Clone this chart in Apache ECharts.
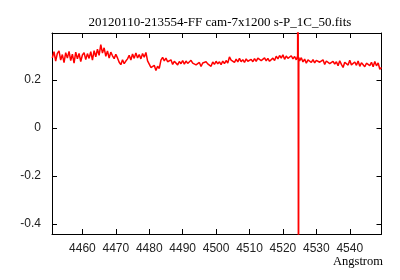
<!DOCTYPE html>
<html>
<head>
<meta charset="utf-8">
<script src="https://cdn.jsdelivr.net/npm/echarts@6/dist/echarts.min.js"></script>
<style>html,body{margin:0;padding:0;background:#fff}#c{width:400px;height:280px}</style>
</head>
<body>
<div id="c"></div>
<script>
var titleText = "20120110-213554-FF cam-7x1200 s-P_1C_50.fits";
var xAxisName = "Angstrom";
var xTicks = [4460, 4470, 4480, 4490, 4500, 4510, 4520, 4530, 4540];
var yTicks = [-0.4, -0.2, 0, 0.2];

var wavelength = [
4451.0,4451.5,4452.0,4452.5,4453.0,4453.5,4454.0,4454.5,4455.0,4455.5,
4456.0,4456.5,4457.0,4457.5,4458.0,4458.5,4459.0,4459.5,4460.0,4460.5,
4461.0,4461.5,4462.0,4462.5,4463.0,4463.5,4464.0,4464.5,4465.0,4465.5,
4466.0,4466.5,4467.0,4467.5,4468.0,4468.5,4469.0,4469.5,4470.0,4470.5,
4471.0,4471.5,4472.0,4472.5,4473.0,4473.5,4474.0,4474.5,4475.0,4475.5,
4476.0,4476.5,4477.0,4477.5,4478.0,4478.5,4479.0,4479.5,4480.0,4480.5,
4481.0,4481.5,4482.0,4482.5,4483.0,4483.5,4484.0,4484.5,4485.0,4485.5,
4486.0,4486.5,4487.0,4487.5,4488.0,4488.5,4489.0,4489.5,4490.0,4490.5,
4491.0,4491.5,4492.0,4492.5,4493.0,4493.5,4494.0,4494.5,4495.0,4495.5,
4496.0,4496.5,4497.0,4497.5,4498.0,4498.5,4499.0,4499.5,4500.0,4500.5,
4501.0,4501.5,4502.0,4502.5,4503.0,4503.5,4504.0,4504.5,4505.0,4505.5,
4506.0,4506.5,4507.0,4507.5,4508.0,4508.5,4509.0,4509.5,4510.0,4510.5,
4511.0,4511.5,4512.0,4512.5,4513.0,4513.5,4514.0,4514.5,4515.0,4515.5,
4516.0,4516.5,4517.0,4517.5,4518.0,4518.5,4519.0,4519.5,4520.0,4520.5,
4521.0,4521.5,4522.0,4522.5,4523.0,4523.5,4524.0,4524.4,4524.5,4524.6,4524.65,4524.75,4525.0,4525.5,
4526.0,4526.5,4527.0,4527.5,4528.0,4528.5,4529.0,4529.5,4530.0,4530.5,
4531.0,4531.5,4532.0,4532.5,4533.0,4533.5,4534.0,4534.5,4535.0,4535.5,
4536.0,4536.5,4537.0,4537.5,4538.0,4538.5,4539.0,4539.5,4540.0,4540.5,
4541.0,4541.5,4542.0,4542.5,4543.0,4543.5,4544.0,4544.5,4545.0,4545.5,
4546.0,4546.5,4547.0,4547.5,4548.0,4548.5,4549.0,4549.5
];

var flux = [
0.292,0.318,0.279,0.311,0.321,0.283,0.306,0.272,0.314,0.291,
0.319,0.281,0.308,0.270,0.316,0.288,0.311,0.277,0.304,0.314,
0.285,0.310,0.290,0.318,0.283,0.322,0.297,0.328,0.303,0.347,
0.312,0.334,0.299,0.321,0.291,0.316,0.301,0.289,0.307,0.292,
0.274,0.264,0.284,0.268,0.279,0.288,0.303,0.283,0.308,0.290,
0.313,0.292,0.306,0.288,0.310,0.295,0.315,0.280,0.266,0.252,
0.245,0.261,0.240,0.257,0.248,0.283,0.294,0.280,0.291,0.276,
0.268,0.284,0.265,0.278,0.282,0.263,0.277,0.268,0.281,0.266,
0.279,0.269,0.265,0.282,0.270,0.274,0.263,0.259,0.273,0.256,
0.271,0.263,0.276,0.267,0.270,0.257,0.275,0.265,0.278,0.267,
0.276,0.264,0.279,0.268,0.281,0.271,0.296,0.283,0.284,0.273,
0.287,0.275,0.290,0.276,0.285,0.273,0.288,0.278,0.271,0.286,
0.276,0.289,0.278,0.291,0.295,0.281,0.276,0.292,0.280,0.290,
0.278,0.273,0.291,0.281,0.299,0.288,0.302,0.291,0.305,0.286,
0.300,0.290,0.283,0.301,0.288,0.298,0.284,0.300,1.5,-0.08,-1.5,0.294,0.280,0.293,
0.275,0.287,0.270,0.284,0.289,0.273,0.285,0.271,0.282,0.288,
0.274,0.269,0.284,0.265,0.279,0.286,0.268,0.261,0.278,0.266,
0.276,0.259,0.280,0.265,0.252,0.274,0.277,0.262,0.282,0.263,
0.255,0.275,0.261,0.279,0.257,0.272,0.276,0.255,0.270,0.278,
0.260,0.274,0.255,0.277,0.259,0.271,0.245,0.252
];

var xMin = 4450.9, xMax = 4549.5;
var yMin = -0.4417, yMax = 0.3958;

var points = wavelength.map(function (w, i) { return [w, flux[i]]; });

var chart = echarts.init(document.getElementById('c'), null, {renderer: 'canvas'});
function tickStyle(vals) {
  return {show: true, inside: true, length: 5, customValues: vals, lineStyle: {color: '#000', width: 1}};
}
var lineStyle = {show: true, onZero: false, lineStyle: {color: '#000', width: 1}};
chart.setOption({
  animation: false,
  backgroundColor: '#fff',
  title: {
    text: titleText, left: 215, top: 11, textAlign: 'center',
    textStyle: {fontFamily: 'Liberation Serif', fontSize: 13, fontWeight: 'normal', color: '#000'}
  },
  grid: {left: 52, right: 18.5, top: 33, bottom: 46, containLabel: false},
  xAxis: [{
    type: 'value', min: xMin, max: xMax, position: 'bottom',
    axisLine: lineStyle, axisTick: tickStyle(xTicks),
    axisLabel: {customValues: xTicks, margin: 9, fontFamily: 'Liberation Sans', fontSize: 12, color: '#222',
      formatter: function (v) { return String(Math.round(v)); }},
    splitLine: {show: false}
  }, {
    type: 'value', min: xMin, max: xMax, position: 'top',
    axisLine: lineStyle, axisTick: tickStyle(xTicks),
    axisLabel: {show: false}, splitLine: {show: false}
  }],
  yAxis: [{
    type: 'value', min: yMin, max: yMax, position: 'left',
    axisLine: lineStyle, axisTick: tickStyle(yTicks),
    axisLabel: {customValues: yTicks, margin: 11, fontFamily: 'Liberation Sans', fontSize: 12, color: '#222',
      formatter: function (v) { return String(Math.round(v * 10) / 10); }},
    splitLine: {show: false}
  }, {
    type: 'value', min: yMin, max: yMax, position: 'right',
    axisLine: lineStyle, axisTick: tickStyle(yTicks),
    axisLabel: {show: false}, splitLine: {show: false}
  }],
  graphic: [{
    type: 'text', right: 17, top: 255,
    style: {text: xAxisName, font: '12.5px "Liberation Serif"', fill: '#000'}
  }],
  series: [{
    type: 'line', data: points, xAxisIndex: 0, yAxisIndex: 0,
    showSymbol: false, clip: true,
    lineStyle: {color: '#ff0000', width: 1.5}
  }]
});
</script>
</body>
</html>
